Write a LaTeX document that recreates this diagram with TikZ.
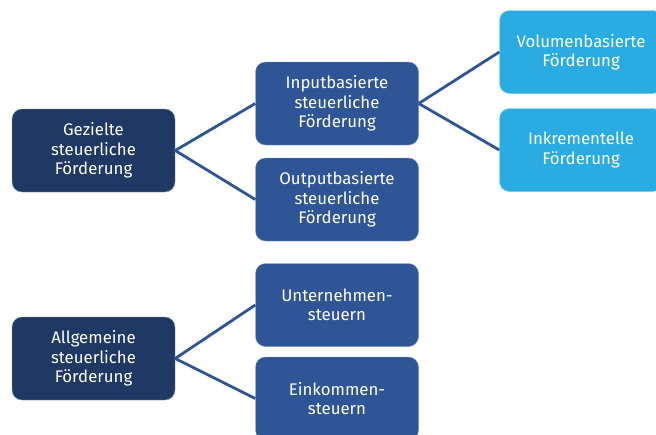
\documentclass[tikz,border=0pt]{standalone}
\usepackage{fontspec}
\setmainfont{Fira Sans}
\usetikzlibrary{positioning}
\definecolor{navyblue}{HTML}{203864}
\definecolor{midblue}{HTML}{2F5597}
\definecolor{lightblue}{HTML}{2AACE2}

\begin{document}
\begin{tikzpicture}[x=1pt, y=-1pt,
		box/.style={rounded corners=10pt, minimum width=163pt, minimum height=83pt, align=center, text=white, inner sep=2pt, font=\fontsize{16.8}{19.5}\selectfont},
		root/.style={box, fill=navyblue, draw=midblue!60},
		mid/.style={box, fill=midblue, draw=midblue!60},
		leaf/.style={box, fill=lightblue, draw=lightblue!60},
		link/.style={draw=midblue, line width=2.8pt}]
		\useasboundingbox (0,0) rectangle (656,434);
		\clip (0,0) rectangle (656,434);
		%\draw[gray,step=50] (0,0) grid (656,434);
		\node[root] (gez) at (93.5,150.5) {Gezielte\\steuerliche\\Förderung};
		\node[mid] (inp) at (337,103.5) {Inputbasierte\\steuerliche\\Förderung};
		\node[mid] (outp) at (337,199.5) {Outputbasierte\\steuerliche\\Förderung};
		\node[leaf] (vol) at (581,52) {Volumenbasierte\\Förderung};
		\node[leaf] (inkr) at (581,150) {Inkrementelle\\Förderung};
		\node[root] (allg) at (93.5,358.5) {Allgemeine\\steuerliche\\Förderung};
		\node[mid] (unt) at (337,305) {Unternehmen-\\steuern};
		\node[mid] (eink) at (337,398.5) {Einkommen-\\steuern};
		\draw[link] (gez.east) -- (inp.west);
		\draw[link] (gez.east) -- (outp.west);
		\draw[link] (inp.east) -- (vol.west);
		\draw[link] (inp.east) -- (inkr.west);
		\draw[link] (allg.east) -- (unt.west);
		\draw[link] (allg.east) -- (eink.west);
	\end{tikzpicture}
\end{document}
